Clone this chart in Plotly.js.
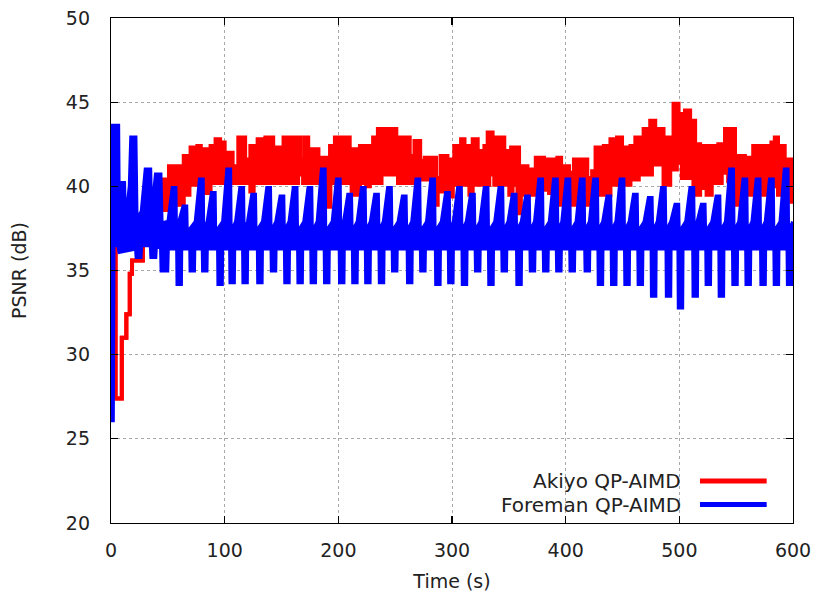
<!DOCTYPE html>
<html><head><meta charset="utf-8">
<script src="https://cdn.plot.ly/plotly-3.0.1.min.js"></script>
<style>html,body{margin:0;padding:0;background:#fff}#chart{width:813px;height:596px}</style>
</head><body><div id="chart"></div>
<script>
// ---- Akiyo QP-AIMD (red): upper and lower edge of the drawn trace, stepwise (time s -> PSNR dB)
const akiyoTopT = [0, 4, 9.5, 13.5, 16.5, 18.5, 28, 30.5, 35, 39.5,
  42, 46, 51, 61, 64, 68.5, 70, 73, 76, 79,
  81.7, 85, 87.6, 92, 96, 100, 102, 107, 112, 118,
  122.6, 127, 129, 133, 135.8, 142.7, 146, 150.4, 151.8, 154.8,
  157.7, 166.4, 170, 173.5, 176.6, 182.5, 185.4, 189.8, 192.7, 197,
  203, 205.8, 210, 213, 216, 219, 227.7, 230.6, 234.8, 251,
  254, 262.8, 267, 272, 276, 286, 290, 296, 298, 302,
  308, 311, 313.8, 318.2, 322.6, 325.6, 328.5, 331.4, 335.7, 338.7,
  346, 349, 352, 359, 362, 366.4, 367.9, 372.3, 373.7, 381,
  382.5, 385.4, 386.9, 391.3, 392.7, 396, 397, 403, 405.8, 407.3,
  411.5, 414.5, 419, 423.3, 426.3, 430.7, 433.6, 438, 439.4, 443.8,
  445.2, 449.6, 455.5, 457, 461.3, 465.7, 468.6, 474.4, 478.8, 481.7,
  486.1, 487.6, 492, 494.9, 499.3, 502.2, 505, 509.5, 513.9, 518.3,
  527, 530, 534.3, 540.2, 549, 551.8, 557.7, 562, 565, 573.7,
  576.6, 581, 584, 586.8, 588.3, 592.7, 598.5, 600];
const akiyoTopV = [38.4, 27.4, 31.0, 32.4, 34.8, 35.6, 36.7, 37.5, 39.6, 38.2,
  39.8, 40.4, 41.2, 40.6, 41.8, 41.2, 42.3, 41.6, 42.4, 41.5,
  42.2, 41.5, 42.4, 42.8, 42.6, 41.5, 42.0, 41.2, 42.9, 41.6,
  42.4, 41.5, 42.8, 41.6, 42.9, 41.6, 42.3, 41.5, 42.9, 41.6,
  42.9, 41.6, 42.9, 41.5, 42.2, 41.4, 41.7, 38.8, 42.4, 42.9,
  41.6, 42.9, 41.5, 42.2, 41.3, 42.4, 41.6, 42.9, 43.4, 42.0,
  42.9, 41.8, 42.7, 41.5, 41.7, 40.5, 41.8, 41.0, 41.6, 42.4,
  42.8, 41.6, 42.4, 42.8, 41.6, 42.1, 42.4, 43.2, 41.8, 42.9,
  41.5, 42.1, 42.3, 40.6, 41.2, 40.6, 41.0, 40.8, 41.7, 41.0,
  41.6, 41.0, 41.6, 41.0, 41.7, 40.0, 41.2, 40.8, 40.3, 41.6,
  41.2, 41.6, 40.5, 40.9, 42.3, 41.3, 42.4, 41.8, 42.8, 42.0,
  42.9, 42.3, 41.7, 42.4, 42.9, 42.0, 43.4, 43.9, 42.5, 43.4,
  42.0, 42.9, 41.5, 44.9, 44.3, 43.6, 44.5, 43.9, 42.5, 42.4,
  41.5, 42.4, 42.5, 43.4, 41.3, 41.8, 41.7, 40.8, 42.4, 41.2,
  42.4, 42.6, 42.9, 41.6, 42.4, 41.6, 39.1, 39.1];
const akiyoLowT = [0, 4, 9.5, 13.5, 16.5, 18.5, 28, 30.5, 35, 39.5,
  42, 50, 64, 69, 81.7, 87.6, 122.6, 125.5, 164.6, 169,
  190, 193, 211.7, 219, 224.5, 227.7, 238, 252.5, 266, 284.7,
  287.4, 296.3, 300.7, 315.3, 318.2, 332.8, 337.2, 350.4, 353.3, 357.6,
  360.6, 376.6, 385.4, 394.2, 397, 398.5, 405.8, 408.8, 416, 420.4,
  439.4, 457, 464.3, 475.9, 486.1, 492, 497.8, 502.2, 512.4, 518.3,
  524, 528.5, 537.3, 543, 549, 553.3, 566.5, 573.7, 578, 586.8,
  589.7, 598.5, 600];
const akiyoLowV = [38.4, 27.4, 31.0, 32.4, 34.8, 35.6, 36.7, 37.5, 39.0, 37.1,
  38.6, 38.9, 39.5, 40.1, 39.6, 40.2, 39.7, 40.2, 40.7, 40.2,
  38.8, 40.2, 39.5, 40.2, 40.0, 40.2, 40.7, 40.2, 40.4, 38.9,
  39.7, 39.4, 40.1, 39.5, 40.1, 40.7, 40.1, 39.5, 40.1, 38.4,
  39.5, 39.8, 39.6, 38.9, 39.5, 40.3, 38.9, 39.5, 38.9, 39.5,
  40.1, 40.4, 40.7, 41.3, 40.1, 41.0, 41.4, 40.5, 39.5, 39.9,
  39.5, 40.2, 40.8, 40.3, 38.9, 39.5, 40.0, 39.5, 40.0, 39.5,
  40.0, 39.1, 39.1];

// ---- Foreman QP-AIMD (blue): first 50 s read point by point
const foremanStartTopT = [0, 1.5, 6.3, 7, 8.8, 11.5, 12.5, 16.5, 17.8, 21.5, 22.5, 27, 30.5, 34.5, 35.5, 39.5, 43.5, 44.5];
const foremanStartTopV = [38.4, 43.6, 43.6, 37.2, 40.2, 40.2, 37.5, 40.0, 42.9, 42.9, 38.0, 38.5, 41.0, 41.0, 38.0, 40.7, 40.7, 37.8];
const foremanStartLowT = [0, 1.6, 2.2, 6.5, 7.4, 13, 22, 22.5, 26, 26.5, 35, 35.5, 39, 39.5, 44, 44.5, 49.5, 50];
const foremanStartLowV = [26.1, 26.1, 36.5, 36.5, 36.1, 36.2, 36.3, 35.8, 35.8, 36.5, 36.5, 35.8, 35.8, 36.4, 36.4, 35.0, 35.0, 36.3];
// after 50 s: each cycle's peak and dip, plus the solid band between them
const foremanPeakT = [55.5, 65, 79.5, 90, 103.6, 115, 125.5, 138.7, 150.4, 162,
  175, 186.8, 200, 210, 222, 233.6, 245, 258, 270, 283,
  296, 306.6, 318, 330, 343, 354.7, 366.4, 378, 391, 402,
  414.6, 426.3, 438, 449.6, 461.3, 474.4, 486, 497.8, 511, 521,
  534, 546, 557.7, 569.3, 581, 594];
const foremanPeakV = [39.9, 38.8, 40.4, 39.6, 41.0, 39.9, 39.5, 39.9, 39.4, 39.9,
  39.9, 41.0, 40.4, 39.5, 39.9, 39.5, 39.9, 39.4, 40.4, 40.4,
  39.6, 39.9, 39.5, 39.9, 39.9, 39.5, 39.4, 40.4, 40.4, 40.4,
  40.4, 40.4, 39.4, 40.4, 39.5, 39.3, 39.9, 38.9, 39.9, 38.9,
  39.4, 41.0, 40.4, 40.4, 40.4, 41.0];
const foremanDipT = [60, 71.5, 82.5, 96, 106.6, 118, 131, 143, 154.8, 166.4,
  178, 189.8, 203, 214.6, 226, 238, 249.6, 262.8, 274.4, 287.6,
  299, 311, 322.6, 334.3, 346, 359, 370.8, 382.5, 394, 405.8,
  419, 430.6, 442.3, 454, 465.7, 477.4, 490.5, 501, 514, 525.5,
  537, 549, 560.6, 573.7, 585.4, 597];
const foremanDipV = [34.2, 35.0, 35.0, 34.2, 34.3, 34.3, 34.3, 35.0, 34.3, 34.3,
  34.3, 34.3, 34.3, 34.3, 34.3, 34.3, 35.0, 34.3, 35.0, 34.2,
  34.3, 34.2, 35.0, 34.2, 35.0, 34.2, 35.0, 35.0, 35.0, 35.0,
  35.0, 34.2, 34.2, 34.2, 34.2, 33.5, 33.5, 32.8, 33.5, 34.2,
  33.5, 34.2, 34.2, 34.2, 34.2, 34.2];
const foremanBandTop = 37.9, foremanNotch = 37.2, foremanBandBottom = 36.3;

const seriesNames = ['Akiyo QP-AIMD', 'Foreman QP-AIMD'];
const RED = '#ff0000', BLUE = '#0000ff';

// build the blue edges from the readings
const fTopX = foremanStartTopT.slice(), fTopY = foremanStartTopV.slice();
foremanPeakT.forEach((t, i) => {
  fTopX.push(t - 5, t - 1.3, t + 1.2, t + 1.7);
  fTopY.push(foremanBandTop, foremanPeakV[i], foremanPeakV[i], foremanNotch);
});
fTopX.push(600); fTopY.push(foremanBandTop);
const fLowX = foremanStartLowT.slice(), fLowY = foremanStartLowV.slice();
foremanDipT.forEach((t, i) => {
  fLowX.push(t - 1.8, t - 1.5, t + 1.5, t + 1.8);
  fLowY.push(foremanBandBottom, foremanDipV[i], foremanDipV[i], foremanBandBottom);
});
fLowX.push(600); fLowY.push(foremanBandBottom);

const W = 4;
const traces = [
  {x: akiyoLowT, y: akiyoLowV, mode: 'lines', line: {color: RED, width: W, shape: 'hv'}, name: seriesNames[0], showlegend: false, hoverinfo: 'skip'},
  {x: akiyoTopT, y: akiyoTopV, mode: 'lines', line: {color: RED, width: W, shape: 'hv'}, fill: 'tonexty', fillcolor: RED, name: seriesNames[0], showlegend: false},
  {x: fLowX, y: fLowY, mode: 'lines', line: {color: BLUE, width: W}, name: seriesNames[1], showlegend: false, hoverinfo: 'skip'},
  {x: fTopX, y: fTopY, mode: 'lines', line: {color: BLUE, width: W}, fill: 'tonexty', fillcolor: BLUE, name: seriesNames[1], showlegend: false}
];

const FONT = {family: 'DejaVu Sans, Verdana, sans-serif', size: 19, color: '#222'};
const LEGFONT = {family: 'DejaVu Sans, Verdana, sans-serif', size: 20, color: '#222'};
const axisCommon = {
  showline: true, linecolor: '#000', linewidth: 1.2, mirror: 'ticks',
  ticks: 'inside', ticklen: 7, tickcolor: '#000', tickwidth: 1.2,
  showgrid: true, gridcolor: '#a8a8a8', griddash: 'dot', gridwidth: 1,
  zeroline: false, tickfont: FONT, automargin: false
};
const layout = {
  width: 813, height: 596,
  margin: {l: 111, r: 20, t: 18, b: 73},
  paper_bgcolor: '#fff', plot_bgcolor: '#fff',
  font: FONT,
  showlegend: false,
  xaxis: Object.assign({}, axisCommon, {range: [0, 600], tick0: 0, dtick: 100, ticklabelstandoff: 10,
    title: {text: 'Time (s)', font: FONT, standoff: 14}}),
  yaxis: Object.assign({}, axisCommon, {range: [20, 50], tick0: 20, dtick: 5, ticklabelstandoff: 16,
    title: {text: 'PSNR (dB)', font: FONT, standoff: 34}}),
  annotations: [
    {xref: 'paper', yref: 'paper', x: 0.8383, y: 0.0833, xanchor: 'right', yanchor: 'middle', text: seriesNames[0], showarrow: false, font: LEGFONT},
    {xref: 'paper', yref: 'paper', x: 0.8383, y: 0.0365, xanchor: 'right', yanchor: 'middle', text: seriesNames[1], showarrow: false, font: LEGFONT}
  ],
  shapes: [
    {type: 'line', xref: 'paper', yref: 'paper', x0: 0.8636, x1: 0.9614, y0: 0.0833, y1: 0.0833, line: {color: RED, width: 5}},
    {type: 'line', xref: 'paper', yref: 'paper', x0: 0.8636, x1: 0.9614, y0: 0.0365, y1: 0.0365, line: {color: BLUE, width: 5}}
  ]
};
Plotly.newPlot('chart', traces, layout, {displayModeBar: false, staticPlot: true});
</script>
</body></html>
